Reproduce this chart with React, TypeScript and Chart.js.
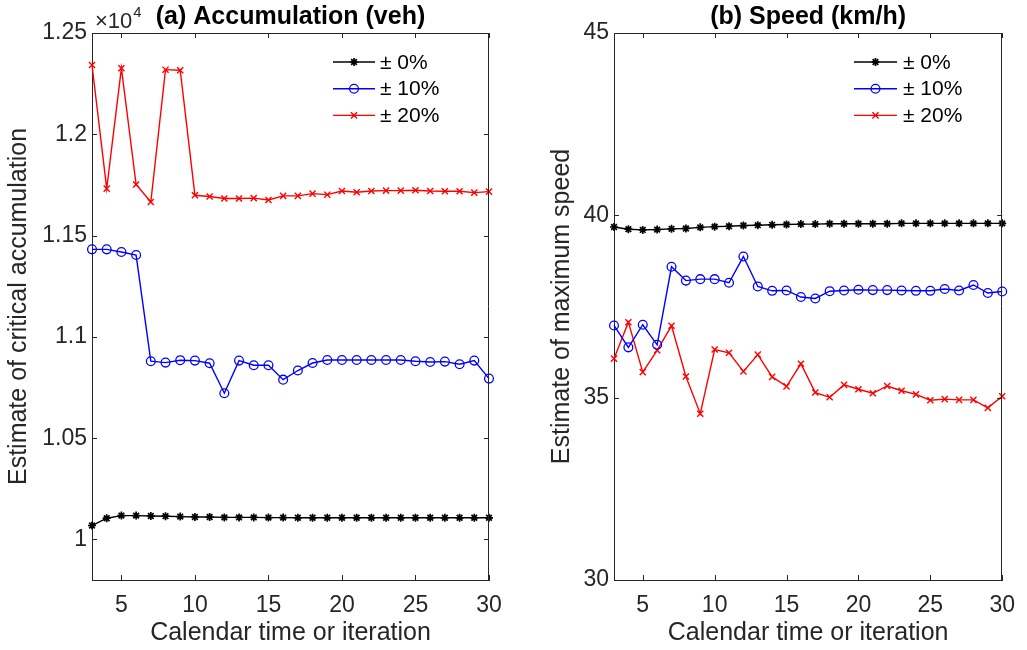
import React, { useEffect, useRef } from "react";
import { Chart, registerables } from "chart.js";

Chart.register(...registerables);

// ---------- data ----------
const ITER = [3, 4, 5, 6, 7, 8, 9, 10, 11, 12, 13, 14, 15, 16, 17, 18, 19, 20, 21, 22, 23, 24, 25, 26, 27, 28, 29, 30];

// Accumulation, in units of 10^4 veh
const ACC_0 = [1.0069, 1.0105, 1.0118, 1.0118, 1.0116, 1.0115, 1.0113, 1.0111, 1.0111, 1.0109, 1.0109, 1.0109, 1.0108, 1.0108, 1.0107, 1.0107, 1.0107, 1.0107, 1.0107, 1.0107, 1.0107, 1.0107, 1.0107, 1.0107, 1.0107, 1.0107, 1.0107, 1.0107];
const ACC_10 = [1.1432, 1.1432, 1.1419, 1.1404, 1.088, 1.0873, 1.0885, 1.0883, 1.087, 1.0722, 1.0883, 1.086, 1.086, 1.0789, 1.0834, 1.0871, 1.0886, 1.0886, 1.0886, 1.0886, 1.0886, 1.0886, 1.088, 1.0876, 1.0878, 1.0865, 1.0883, 1.0794];
const ACC_20 = [1.2342, 1.1732, 1.2326, 1.1752, 1.1666, 1.2319, 1.2316, 1.1699, 1.1693, 1.1683, 1.1683, 1.1685, 1.1676, 1.1696, 1.1696, 1.1707, 1.1702, 1.172, 1.1714, 1.172, 1.1722, 1.1722, 1.1724, 1.172, 1.1719, 1.1719, 1.1712, 1.1717];

// Speed, km/h
const SPD_0 = [39.68, 39.62, 39.6, 39.61, 39.63, 39.64, 39.67, 39.69, 39.7, 39.72, 39.73, 39.74, 39.75, 39.76, 39.76, 39.77, 39.77, 39.77, 39.77, 39.77, 39.78, 39.78, 39.78, 39.78, 39.78, 39.78, 39.78, 39.78];
const SPD_10 = [36.98, 36.38, 37.0, 36.45, 38.59, 38.21, 38.25, 38.25, 38.15, 38.87, 38.05, 37.93, 37.94, 37.76, 37.72, 37.92, 37.94, 37.96, 37.95, 37.95, 37.94, 37.93, 37.93, 37.98, 37.94, 38.09, 37.87, 37.91];
const SPD_20 = [36.07, 37.07, 35.7, 36.3, 36.97, 35.58, 34.56, 36.32, 36.23, 35.72, 36.18, 35.57, 35.31, 35.93, 35.14, 35.01, 35.35, 35.23, 35.12, 35.32, 35.19, 35.09, 34.93, 34.96, 34.94, 34.94, 34.72, 35.04];

const X_TICKS = [5, 10, 15, 20, 25, 30];
const ACC_TICKS = [1, 1.05, 1.1, 1.15, 1.2, 1.25];
const SPD_TICKS = [30, 35, 40, 45];
const LEGEND_LABELS = ["\u00B1 0%", "\u00B1 10%", "\u00B1 20%"];
const SERIES_COLORS = ["#000000", "#0000ff", "#ff0000"];
const SERIES_MARKERS = ["star", "circle", "crossRot"];
const MARKER_RADIUS = [4, 4.4, 4.3];
const MARKER_WIDTH = [1.7, 1.3, 1.4];

const FONT = "'Liberation Sans', Arial, Helvetica, sans-serif";
const AXIS_COLOR = "#262626";
const TICK_LEN = 5;

function drawMarker(ctx: CanvasRenderingContext2D, i: number, x: number, y: number) {
  const style = SERIES_MARKERS[i];
  const r = MARKER_RADIUS[i];
  ctx.save();
  ctx.strokeStyle = SERIES_COLORS[i];
  ctx.lineWidth = MARKER_WIDTH[i];
  ctx.beginPath();
  if (style === "circle") {
    ctx.arc(x, y, r, 0, Math.PI * 2);
  } else if (style === "crossRot") {
    const d = r * Math.SQRT1_2;
    ctx.moveTo(x - d, y - d); ctx.lineTo(x + d, y + d);
    ctx.moveTo(x - d, y + d); ctx.lineTo(x + d, y - d);
  } else {
    const d = r * Math.SQRT1_2;
    ctx.moveTo(x - r, y); ctx.lineTo(x + r, y);
    ctx.moveTo(x, y - r); ctx.lineTo(x, y + r);
    ctx.moveTo(x - d, y - d); ctx.lineTo(x + d, y + d);
    ctx.moveTo(x - d, y + d); ctx.lineTo(x + d, y - d);
  }
  ctx.stroke();
  ctx.restore();
}

const framePlugin = {
  id: "frame",
  afterDraw(chart: any, _args: any, opts: any) {
    const { ctx, chartArea: a, scales } = chart;
    const xs = scales.x, ys = scales.y;
    ctx.save();
    ctx.strokeStyle = AXIS_COLOR;
    ctx.lineWidth = 1;
    ctx.beginPath();
    ctx.moveTo(a.left, Math.round(a.top) + 0.5);
    ctx.lineTo(a.right, Math.round(a.top) + 0.5);
    ctx.moveTo(Math.round(a.right) - 0.5, a.top);
    ctx.lineTo(Math.round(a.right) - 0.5, a.bottom);
    for (const v of X_TICKS) {
      const px = Math.round(xs.getPixelForValue(v)) + 0.5;
      ctx.moveTo(px, a.bottom); ctx.lineTo(px, a.bottom - TICK_LEN);
      ctx.moveTo(px, a.top); ctx.lineTo(px, a.top + TICK_LEN);
    }
    for (const v of opts.yTicks) {
      const py = Math.round(ys.getPixelForValue(v)) + 0.5;
      ctx.moveTo(a.left, py); ctx.lineTo(a.left + TICK_LEN, py);
      ctx.moveTo(a.right, py); ctx.lineTo(a.right - TICK_LEN, py);
    }
    ctx.stroke();

    // legend
    const L = opts.legend;
    LEGEND_LABELS.forEach((lab, i) => {
      const y = L.y0 + i * L.dy;
      ctx.strokeStyle = SERIES_COLORS[i];
      ctx.lineWidth = 1.4;
      ctx.beginPath();
      ctx.moveTo(L.x0, y); ctx.lineTo(L.x1, y);
      ctx.stroke();
      drawMarker(ctx, i, (L.x0 + L.x1) / 2, y);
      ctx.fillStyle = "#000";
      ctx.font = `21px ${FONT}`;
      ctx.textAlign = "left";
      ctx.textBaseline = "middle";
      ctx.fillText(lab, L.tx, y + 1);
    });

    // exponent label
    if (opts.exponent) {
      ctx.fillStyle = AXIS_COLOR;
      ctx.textAlign = "left";
      ctx.textBaseline = "alphabetic";
      ctx.font = `22px ${FONT}`;
      ctx.fillText("\u00D710", opts.exponent.x, opts.exponent.y);
      const w = ctx.measureText("\u00D710").width;
      ctx.font = `15px ${FONT}`;
      ctx.fillText("4", opts.exponent.x + w + 1, opts.exponent.y - 11);
    }
    ctx.restore();
  },
};

interface PanelProps {
  width: number;
  title: string;
  yTitle: string;
  series: number[][];
  yMin: number;
  yMax: number;
  yTicks: number[];
  plotLeft: number;
  plotRight: number;
  yTitlePad: number;
  legend: { x0: number; x1: number; tx: number; y0: number; dy: number };
  exponent?: { x: number; y: number };
}

function Panel(p: PanelProps) {
  const ref = useRef<HTMLCanvasElement | null>(null);
  useEffect(() => {
    if (!ref.current) return;
    const datasets = p.series.map((vals, i) => ({
      label: LEGEND_LABELS[i],
      data: ITER.map((x, k) => ({ x, y: vals[k] })),
      borderColor: SERIES_COLORS[i],
      backgroundColor: "rgba(0,0,0,0)",
      borderWidth: 1.4,
      pointStyle: SERIES_MARKERS[i] as any,
      pointRadius: MARKER_RADIUS[i],
      pointBorderWidth: MARKER_WIDTH[i],
      pointBorderColor: SERIES_COLORS[i],
      pointBackgroundColor: "rgba(0,0,0,0)",
      tension: 0,
      clip: false as any,
    }));
    const chart = new Chart(ref.current, {
      type: "line",
      data: { datasets },
      plugins: [framePlugin],
      options: {
        animation: false,
        responsive: false,
        events: [],
        layout: { padding: { left: 0, right: p.width - p.plotRight, top: 0, bottom: 0 } },
        plugins: {
          legend: { display: false },
          tooltip: { enabled: false },
          title: {
            display: true,
            text: p.title,
            fullSize: false,
            color: "#000",
            font: { family: FONT, size: 25, weight: "bold" },
            padding: { top: 2, bottom: 1 },
          },
          frame: { yTicks: p.yTicks, legend: p.legend, exponent: p.exponent },
        } as any,
        scales: {
          x: {
            type: "linear",
            min: 3,
            max: 30,
            afterBuildTicks: (s: any) => { s.ticks = X_TICKS.map((v) => ({ value: v })); },
            afterFit: (s: any) => { s.height = 70; },
            grid: { display: true, drawOnChartArea: false, drawTicks: false },
            border: { display: true, color: AXIS_COLOR, width: 1 },
            ticks: { color: AXIS_COLOR, font: { family: FONT, size: 23 }, padding: 12, maxRotation: 0, autoSkip: false },
            title: {
              display: true,
              text: "Calendar time or iteration",
              color: AXIS_COLOR,
              font: { family: FONT, size: 25 },
              padding: { top: 0, bottom: 2 },
            },
          },
          y: {
            type: "linear",
            min: p.yMin,
            max: p.yMax,
            afterBuildTicks: (s: any) => { s.ticks = p.yTicks.map((v) => ({ value: v })); },
            afterFit: (s: any) => { s.width = p.plotLeft; },
            grid: { display: true, drawOnChartArea: false, drawTicks: false },
            border: { display: true, color: AXIS_COLOR, width: 1 },
            ticks: {
              color: AXIS_COLOR,
              font: { family: FONT, size: 23 },
              padding: 5,
              autoSkip: false,
              callback: (v: any) => String(Math.round(Number(v) * 1000) / 1000),
            },
            title: {
              display: true,
              text: p.yTitle,
              color: AXIS_COLOR,
              font: { family: FONT, size: 25 },
              padding: { top: p.yTitlePad, bottom: 0 },
            },
          },
        },
      } as any,
    });
    return () => chart.destroy();
  }, []);
  return <canvas ref={ref} width={p.width} height={650} style={{ width: p.width, height: 650, display: "block" }} />;
}

export default function App() {
  return (
    <div style={{ position: "fixed", left: 0, top: 0, width: 1027, height: 650, background: "#fff" }}>
      <div style={{ position: "absolute", left: 0, top: 0 }}>
        <Panel
          width={540}
          title="(a) Accumulation (veh)"
          yTitle="Estimate of critical accumulation"
          series={[ACC_0, ACC_10, ACC_20]}
          yMin={0.98}
          yMax={1.25}
          yTicks={ACC_TICKS}
          plotLeft={92}
          plotRight={489}
          yTitlePad={4}
          legend={{ x0: 333, x1: 375, tx: 380, y0: 62, dy: 26.7 }}
          exponent={{ x: 95, y: 28 }}
        />
      </div>
      <div style={{ position: "absolute", left: 540, top: 0 }}>
        <Panel
          width={487}
          title="(b) Speed (km/h)"
          yTitle="Estimate of maximum speed"
          series={[SPD_0, SPD_10, SPD_20]}
          yMin={30}
          yMax={45}
          yTicks={SPD_TICKS}
          plotLeft={74}
          plotRight={471}
          yTitlePad={7}
          legend={{ x0: 314, x1: 357, tx: 363, y0: 62, dy: 26.7 }}
        />
      </div>
    </div>
  );
}
